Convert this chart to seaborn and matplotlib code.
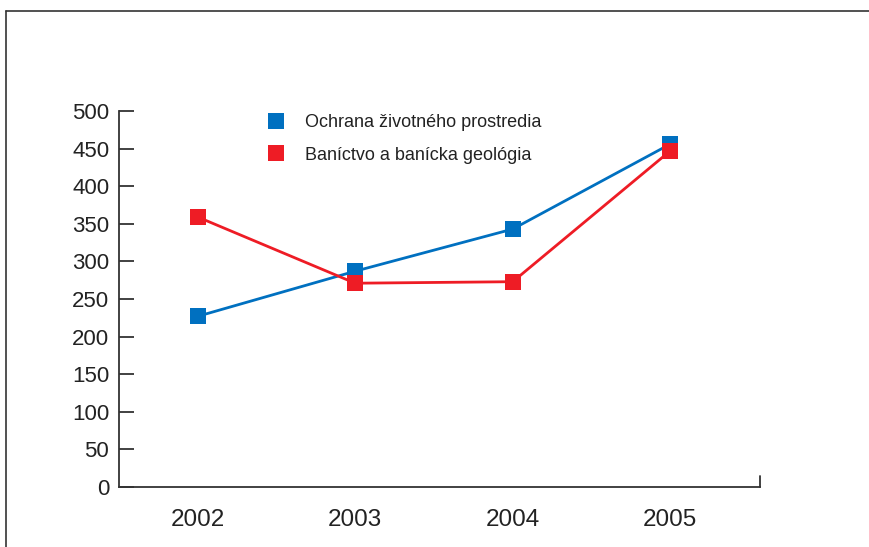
import matplotlib
matplotlib.use("Agg")
import matplotlib.pyplot as plt
import seaborn as sns
import pandas as pd
from matplotlib.lines import Line2D
from matplotlib import font_manager

years = ["2002", "2003", "2004", "2005"]
series_names = ["Ochrana životného prostredia", "Baníctvo a banícka geológia"]
ochrana = [227, 287, 343, 456]
banictvo = [359, 271, 273, 447]
y_ticks = [0, 50, 100, 150, 200, 250, 300, 350, 400, 450, 500]

colors = ["#0070C0", "#EE1C25"]

df = pd.DataFrame({
    "rok": list(range(len(years))) * 2,
    "hodnota": ochrana + banictvo,
    "seria": [series_names[0]] * len(years) + [series_names[1]] * len(years),
})

sns.set_theme(style="white")
plt.rcParams["font.family"] = ["Liberation Sans", "DejaVu Sans"]

installed = {f.name for f in font_manager.fontManager.ttflist}
leg_family = [f for f in ["Liberation Sans Narrow", "DejaVu Sans Condensed",
                          "Liberation Sans", "DejaVu Sans"] if f in installed]
print(sorted(installed))

fig = plt.figure(figsize=(8.7, 5.47), dpi=100)
ax = fig.add_axes([119 / 870, 1 - 487 / 547, (760 - 119) / 870, (487 - 111) / 547])

sns.lineplot(data=df, x="rok", y="hodnota", hue="seria", palette=colors,
             marker="s", markersize=11, markeredgewidth=0, linewidth=2.0,
             ax=ax, legend=False)

ax.set_xlim(-0.5, 3.57)
ax.set_ylim(0, 500)
ax.set_xticks(range(len(years)))
ax.set_xticklabels(years)
ax.set_yticks(y_ticks)
ax.set_xlabel("")
ax.set_ylabel("")

for s in ["top", "right"]:
    ax.spines[s].set_visible(False)
for s in ["left", "bottom"]:
    ax.spines[s].set_color("#333333")
    ax.spines[s].set_linewidth(1.3)

ax.tick_params(axis="y", direction="in", length=11, width=1.3, color="#333333",
               labelsize=16, labelcolor="#222222", pad=7, left=True)
ax.tick_params(axis="x", length=0, labelsize=17.5, labelcolor="#222222", pad=16)

# small tick at right end of x axis
ax.plot([1, 1], [0, 0.03], transform=ax.transAxes, color="#333333", lw=1.3,
        clip_on=False)

# legend
handles = [Line2D([], [], marker="s", linestyle="none", markersize=11,
                  markerfacecolor=c, markeredgewidth=0) for c in colors]
leg = fig.legend(handles, series_names, loc="upper left",
                 bbox_to_anchor=(251 / 870, 1 - 98 / 547), frameon=False,
                 handlelength=1.0, handletextpad=1.1, labelspacing=0.85,
                 prop={"family": leg_family, "size": 13})
for t in leg.get_texts():
    t.set_color("#222222")

# outer frame lines (top and left)
fig.add_artist(Line2D([6 / 870, 1], [1 - 11 / 547, 1 - 11 / 547],
                      transform=fig.transFigure, color="#333333", lw=1.2))
fig.add_artist(Line2D([6 / 870, 6 / 870], [0, 1 - 11 / 547],
                      transform=fig.transFigure, color="#333333", lw=1.2))

fig.savefig("out.png", dpi=100)
